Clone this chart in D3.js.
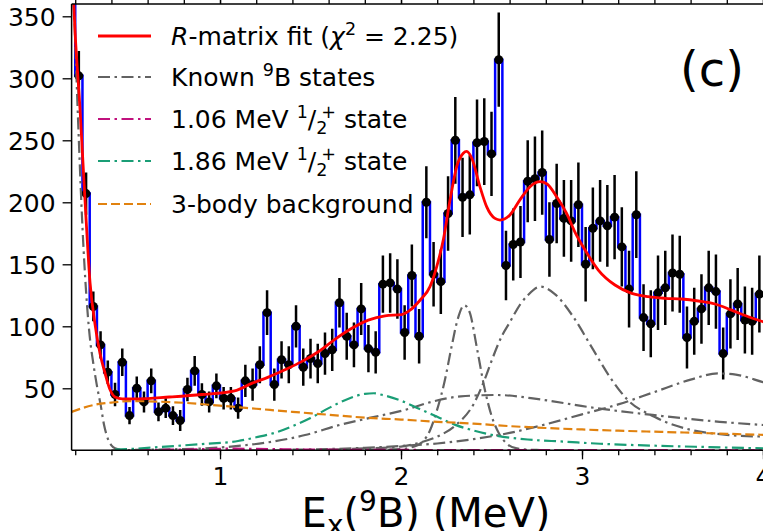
<!DOCTYPE html>
<meta charset="utf-8">
<style>
body { margin: 0; background: #fff; }
svg { display: block; font-family: "DejaVu Sans", sans-serif; }
</style>
<body>
<script src="https://cdn.jsdelivr.net/npm/d3@7/dist/d3.min.js"></script>
<script>

// spectrum bins (MeV): first bin centre and bin width
var binFirst = 0.18;
var binWidth = 0.04;

// counts per bin (first bin is off scale)
var counts = [420, 302, 207, 116, 85, 63, 45, 71, 28, 50, 39, 56, 31, 34, 28, 24, 49, 64, 45, 39,
  52, 42, 42, 34, 56, 53, 69, 111, 53, 73, 69, 100, 67, 74, 70, 78, 81, 119, 92, 85,
  114, 82, 79, 134, 135, 130, 95, 141, 92, 200, 142, 136, 191, 250, 204, 206, 248, 249, 239, 315,
  149, 166, 168, 217, 219, 224, 170, 199, 187, 185, 198, 150, 179, 185, 181, 188, 164, 130, 190, 107,
  102, 127, 131, 143, 142, 91, 104, 114, 131, 128, 78, 110, 118, 105, 104, 126];

var errors = [25, 20, 17, 12, 11, 9.5, 9.5, 11, 7, 9.5, 8.5, 10, 7.5, 8, 7.5, 8.5, 9.5, 12, 9, 8.5,
  10, 9, 9, 8.5, 13, 13, 15, 18, 13, 15, 15, 17, 15, 16, 16, 17, 17, 20, 19, 18,
  21, 19, 17, 23, 24, 24, 22, 25, 22, 29, 26, 26, 30, 35, 32, 32, 35, 35, 34, 38,
  28, 29, 29, 33, 34, 34, 30, 32, 31, 33, 34, 30, 33, 33, 33, 34, 32, 31, 35, 27,
  27, 30, 30, 31, 31, 25, 27, 28, 30, 30, 21, 28, 29, 27, 27, 31];

// model curves [E (MeV), counts]
var fitCurve = [[0.18, 395], [0.20, 335], [0.227, 274], [0.254, 202], [0.282, 135], [0.309, 102],
  [0.337, 78], [0.365, 62], [0.392, 49], [0.42, 43], [0.46, 41.5], [0.55, 41.5], [0.72, 43],
  [0.9, 45], [1.08, 48], [1.175, 54], [1.267, 59], [1.359, 65], [1.451, 71.5], [1.543, 79.5],
  [1.635, 89.5], [1.728, 98.4], [1.819, 105], [1.912, 108.5], [2.004, 109.5], [2.05, 113],
  [2.105, 121], [2.16, 132], [2.197, 148], [2.234, 170], [2.271, 202], [2.308, 229], [2.344, 239.5],
  [2.363, 241], [2.391, 235.5], [2.436, 212.6], [2.473, 196.5], [2.519, 187], [2.547, 185.7],
  [2.602, 189.8], [2.657, 202], [2.713, 212.6], [2.768, 216.6], [2.805, 215], [2.86, 204.5],
  [2.915, 191], [2.961, 176], [3.017, 161.5], [3.09, 145.4], [3.182, 133.3], [3.275, 126.6],
  [3.366, 123.9], [3.459, 122.6], [3.551, 122], [3.643, 120.4], [3.735, 118], [3.827, 113],
  [3.919, 107.7], [4.0, 103.7], [4.1, 99]];

var knownStates = [
  [[0.18, 420], [0.20, 330], [0.22, 250], [0.24, 180], [0.26, 128], [0.28, 92], [0.30, 70],
   [0.32, 52], [0.34, 37], [0.36, 20], [0.38, 9.5], [0.40, 4], [0.42, 1.6], [0.46, 0.4],
   [0.55, 0.1], [1.0, 0], [4.1, 0]],
  [[0.4, 0], [0.6, 0.5], [0.9, 1.5], [1.1, 3.5], [1.29, 7], [1.47, 12.3], [1.66, 20.4],
   [1.84, 26.5], [2.02, 32.5], [2.18, 39.5], [2.33, 43.5], [2.53, 44.6], [2.77, 41], [3.03, 35],
   [3.39, 28.5], [3.76, 23], [4.0, 20.4], [4.1, 19.5]],
  [[1.8, 0.3], [2.0, 1], [2.06, 2.5], [2.12, 7], [2.16, 16], [2.20, 33], [2.24, 55], [2.28, 84],
   [2.31, 104], [2.35, 117], [2.38, 111], [2.42, 82], [2.46, 51], [2.50, 28], [2.54, 14],
   [2.58, 6], [2.64, 1.5], [2.75, 0.3], [3.0, 0], [4.1, 0]],
  [[1.6, 0.5], [1.8, 1.5], [2.0, 3], [2.1, 6], [2.2, 11], [2.3, 20], [2.4, 37], [2.47, 60],
   [2.5, 72], [2.56, 93], [2.6, 103], [2.66, 118], [2.7, 125], [2.77, 132], [2.85, 126],
   [2.95, 108], [3.05, 84], [3.15, 60], [3.25, 41], [3.4, 27], [3.6, 16.5], [3.8, 12.5],
   [4.0, 11], [4.1, 10.5]],
  [[1.4, 0.5], [1.6, 1], [1.8, 2], [2.0, 3.5], [2.2, 5.5], [2.4, 9], [2.6, 14], [2.8, 21],
   [3.0, 29], [3.2, 37], [3.4, 47], [3.6, 57], [3.75, 62], [3.85, 61], [4.0, 55], [4.1, 51]]
];

var state106 = [[0.42, 0], [0.7, 0.4], [0.9, 0.9], [1.06, 1.3], [1.2, 1.1], [1.5, 0.6],
  [2.0, 0.3], [3.0, 0.1], [4.1, 0.05]];

var state186 = [[0.42, 0.5], [0.5, 1], [0.7, 3], [0.9, 5], [1.1, 7.5], [1.2, 10.5], [1.3, 14],
  [1.4, 19.5], [1.5, 26], [1.6, 34], [1.7, 41], [1.8, 45.5], [1.85, 46], [1.9, 44.5], [2.0, 40],
  [2.1, 33.5], [2.2, 27], [2.3, 20.5], [2.4, 16], [2.5, 12.5], [2.7, 8.7], [2.9, 7], [3.1, 5.3],
  [3.4, 3.7], [3.7, 2.6], [4.0, 1.6], [4.1, 1.4]];

var background3body = [[0.18, 31], [0.3, 36.5], [0.4, 38.5], [0.5, 39.7], [0.6, 39.5], [0.8, 38.3],
  [1.0, 36], [1.2, 33.5], [1.4, 31], [1.6, 28.7], [1.8, 26.3], [2.0, 24.8], [2.2, 23], [2.4, 21.5],
  [2.6, 19.5], [2.8, 18], [3.0, 16.8], [3.2, 15.8], [3.4, 15], [3.6, 14.2], [3.8, 13.3],
  [4.0, 12.5], [4.1, 12.2]];

var xMajorTicks = [1, 2, 3, 4];
var yMajorTicks = [50, 100, 150, 200, 250, 300, 350];

var width = 763, height = 531;
var plot = {left: 71.6, top: 3.9, bottom: 450.3};

var svg = d3.select('body').append('svg')
  .attr('width', width)
  .attr('height', height);

var x = d3.scaleLinear().domain([0.18, 4.0]).range([plot.left, 763]);
var y = d3.scaleLinear().domain([0, 360]).range([plot.bottom, plot.top]);

svg.append('clipPath').attr('id', 'clip')
  .append('rect')
  .attr('x', plot.left).attr('y', plot.top)
  .attr('width', 900).attr('height', plot.bottom - plot.top);

var g = svg.append('g').attr('clip-path', 'url(#clip)');

// histogram as steps over bin edges
var bins = counts.map(function(c, i) {
  return {e: binFirst + i * binWidth, c: c, err: errors[i]};
});
var stepPts = [];
bins.forEach(function(d, i) {
  var lo = i === 0 ? d.e : d.e - binWidth / 2;
  var hi = i === bins.length - 1 ? d.e : d.e + binWidth / 2;
  stepPts.push([lo, d.c]);
  stepPts.push([hi, d.c]);
});
g.append('path')
  .datum(stepPts)
  .attr('fill', 'none')
  .attr('stroke', '#0000ff')
  .attr('stroke-width', 2.5)
  .attr('d', d3.line().x(function(d) { return x(d[0]); }).y(function(d) { return y(d[1]); }));

// error bars and points
g.selectAll('.err').data(bins).enter().append('line')
  .attr('class', 'err')
  .attr('x1', function(d) { return x(d.e); })
  .attr('x2', function(d) { return x(d.e); })
  .attr('y1', function(d) { return y(d.c - d.err); })
  .attr('y2', function(d) { return y(d.c + d.err); })
  .attr('stroke', '#000')
  .attr('stroke-width', 2.5);

g.selectAll('.pt').data(bins).enter().append('circle')
  .attr('class', 'pt')
  .attr('cx', function(d) { return x(d.e); })
  .attr('cy', function(d) { return y(d.c); })
  .attr('r', 4.5)
  .attr('fill', '#000');

// curves
var curveLine = d3.line()
  .x(function(d) { return x(d[0]); })
  .y(function(d) { return y(d[1]); })
  .curve(d3.curveMonotoneX);

var dashDot = '12,4.5,2.5,4.5';
knownStates.forEach(function(s) {
  g.append('path').datum(s)
    .attr('fill', 'none').attr('stroke', '#626262')
    .attr('stroke-width', 2.2).attr('stroke-dasharray', dashDot)
    .attr('d', curveLine);
});
g.append('path').datum(state106)
  .attr('fill', 'none').attr('stroke', '#c0117d')
  .attr('stroke-width', 2.2).attr('stroke-dasharray', dashDot)
  .attr('d', curveLine);
g.append('path').datum(state186)
  .attr('fill', 'none').attr('stroke', '#1a9e76')
  .attr('stroke-width', 2.2).attr('stroke-dasharray', dashDot)
  .attr('d', curveLine);
g.append('path').datum(background3body)
  .attr('fill', 'none').attr('stroke', '#e1820f')
  .attr('stroke-width', 2.2).attr('stroke-dasharray', '9,4')
  .attr('d', curveLine);
g.append('path').datum(fitCurve)
  .attr('fill', 'none').attr('stroke', '#ff0000')
  .attr('stroke-width', 2.8)
  .attr('d', curveLine);

// axes
var minor = d3.range(1, 21).map(function(i) { return i * 0.2; });

function styleAxis(sel) {
  sel.select('.domain').remove();
  sel.selectAll('line').attr('stroke', '#000').attr('stroke-width', 1.3);
  sel.selectAll('text').attr('font-size', 25).attr('fill', '#000')
    .attr('font-family', '"DejaVu Sans", sans-serif');
}

svg.append('g').attr('transform', 'translate(0,' + plot.bottom + ')')
  .call(d3.axisBottom(x).tickValues(minor).tickSize(5).tickFormat(''))
  .call(styleAxis);
svg.append('g').attr('transform', 'translate(0,' + plot.bottom + ')')
  .call(d3.axisBottom(x).tickValues(xMajorTicks).tickSize(9).tickPadding(8).tickFormat(d3.format('d')))
  .call(styleAxis);
svg.append('g').attr('transform', 'translate(0,' + plot.top + ')')
  .call(d3.axisTop(x).tickValues(minor).tickSize(5).tickFormat(''))
  .call(styleAxis);
svg.append('g').attr('transform', 'translate(0,' + plot.top + ')')
  .call(d3.axisTop(x).tickValues(xMajorTicks).tickSize(9).tickFormat(''))
  .call(styleAxis);
svg.append('g').attr('transform', 'translate(' + plot.left + ',0)')
  .call(d3.axisLeft(y).tickValues(yMajorTicks).tickSize(9).tickPadding(7))
  .call(styleAxis)
  .selectAll('text').attr('dy', '0.36em');

// spines
svg.append('line').attr('x1', plot.left).attr('x2', width)
  .attr('y1', plot.bottom).attr('y2', plot.bottom).attr('stroke', '#000').attr('stroke-width', 1.5);
svg.append('line').attr('x1', plot.left).attr('x2', width)
  .attr('y1', plot.top).attr('y2', plot.top).attr('stroke', '#000').attr('stroke-width', 1.5);
svg.append('line').attr('x1', plot.left).attr('x2', plot.left)
  .attr('y1', plot.top).attr('y2', plot.bottom).attr('stroke', '#000').attr('stroke-width', 1.5);

// x label
var xl = svg.append('text')
  .attr('x', 426).attr('y', 527)
  .attr('text-anchor', 'middle')
  .attr('font-size', 40);
xl.append('tspan').text('E');
xl.append('tspan').attr('font-size', 28).attr('dy', 8).text('x');
xl.append('tspan').attr('dy', -8).text('(');
xl.append('tspan').attr('font-size', 28).attr('dy', -16).text('9');
xl.append('tspan').attr('dy', 16).text('B) (MeV)');

// panel letter
svg.append('text')
  .attr('x', 712).attr('y', 86)
  .attr('text-anchor', 'middle')
  .attr('font-size', 48)
  .text('(c)');

// legend
var legendY = [36, 77, 119, 161, 204];
var legendStyle = [
  {color: '#ff0000', dash: null, w: 2.8},
  {color: '#626262', dash: dashDot, w: 2.2},
  {color: '#c0117d', dash: dashDot, w: 2.2},
  {color: '#1a9e76', dash: dashDot, w: 2.2},
  {color: '#e1820f', dash: '9,4', w: 2.2}
];
legendStyle.forEach(function(s, i) {
  svg.append('line')
    .attr('x1', 98).attr('x2', 151)
    .attr('y1', legendY[i]).attr('y2', legendY[i])
    .attr('stroke', s.color).attr('stroke-width', s.w)
    .attr('stroke-dasharray', s.dash);
});

function legendText(i) {
  return svg.append('text').attr('x', 171).attr('y', legendY[i] + 9).attr('font-size', 25);
}
var t0 = legendText(0);
t0.append('tspan').attr('font-style', 'italic').text('R');
t0.append('tspan').text('-matrix fit (');
t0.append('tspan').attr('font-style', 'italic').text('χ');
t0.append('tspan').attr('font-size', 17.5).attr('dy', -10).text('2');
t0.append('tspan').attr('dy', 10).text(' = 2.25)');

var t1 = legendText(1);
t1.append('tspan').text('Known ');
t1.append('tspan').attr('font-size', 17.5).attr('dy', -10).text('9');
t1.append('tspan').attr('dy', 10).text('B states');

['1.06', '1.86'].forEach(function(e, k) {
  var t = legendText(2 + k);
  t.append('tspan').text(e + ' MeV ');
  t.append('tspan').attr('font-size', 17.5).attr('dy', -10).text('1');
  t.append('tspan').attr('dy', 10).text('/');
  t.append('tspan').attr('font-size', 17.5).attr('dy', 6).text('2');
  t.append('tspan').attr('font-size', 17.5).attr('dy', -16).attr('dx', -6).text('+');
  t.append('tspan').attr('dy', 10).text(' state');
});

legendText(4).text('3-body background');

</script>
</body>
